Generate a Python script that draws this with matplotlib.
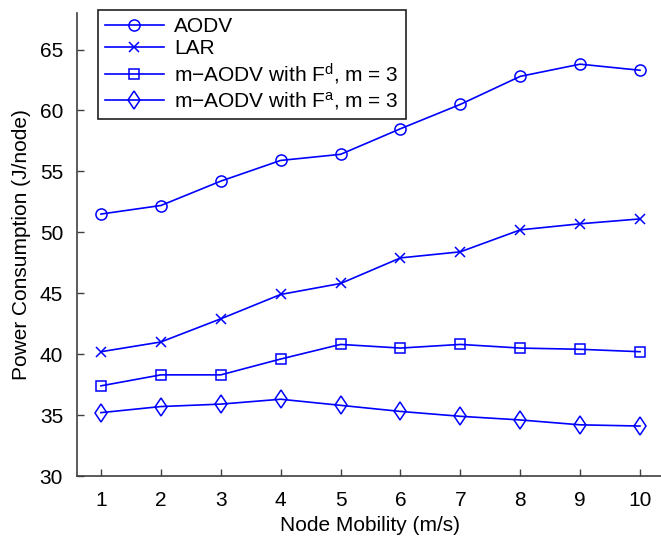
import numpy as np
import matplotlib
matplotlib.use("Agg")
import matplotlib.pyplot as plt

plt.rcParams['font.family'] = ['Liberation Sans', 'DejaVu Sans']
plt.rcParams['mathtext.fontset'] = 'custom'
plt.rcParams['mathtext.rm'] = 'Liberation Sans'
plt.rcParams['mathtext.it'] = 'Liberation Sans:italic'

# data
mobility = [1, 2, 3, 4, 5, 6, 7, 8, 9, 10]
aodv = [51.5, 52.2, 54.2, 55.9, 56.4, 58.5, 60.5, 62.8, 63.8, 63.3]
lar = [40.2, 41.0, 42.9, 44.9, 45.8, 47.9, 48.4, 50.2, 50.7, 51.1]
maodv_fd = [37.4, 38.3, 38.3, 39.6, 40.8, 40.5, 40.8, 40.5, 40.4, 40.2]
maodv_fa = [35.2, 35.7, 35.9, 36.3, 35.8, 35.3, 34.9, 34.6, 34.2, 34.1]

labels = ["AODV", "LAR",
          "m\u2212AODV with F$^{\\mathrm{d}}$, m = 3",
          "m\u2212AODV with F$^{\\mathrm{a}}$, m = 3"]
yticks = [30, 35, 40, 45, 50, 55, 60, 65]

fs = 15

fig = plt.figure(figsize=(6.61, 5.38), dpi=100)
ax = fig.add_axes([77/661, 62/538, 587/661, 463/538])

blue = "#0000ff"
kw = dict(color=blue, lw=1.2, markerfacecolor="none", markeredgecolor=blue, markeredgewidth=1.1)
ax.plot(mobility, aodv, marker="o", ms=8, label=labels[0], **kw)
ax.plot(mobility, lar, marker="x", ms=6.5, label=labels[1], **kw)
ax.plot(mobility, maodv_fd, marker="s", ms=7, label=labels[2], **kw)
ax.plot(mobility, maodv_fa, marker="d", ms=9.5, label=labels[3], **kw)

ax.set_xlim(0.6, 10.4)
ax.set_ylim(30, 68)
ax.set_xticks(mobility)
ax.set_yticks(yticks)
ax.spines['top'].set_visible(False)
ax.spines['right'].set_visible(False)
for s in ['left', 'bottom']:
    ax.spines[s].set_color("#404040")
    ax.spines[s].set_linewidth(1.2)
ax.tick_params(direction="in", length=5, width=1, color="#404040", labelsize=fs)
ax.tick_params(axis="x", pad=11)
ax.tick_params(axis="y", pad=10)

ax.set_xlabel("Node Mobility (m/s)", fontsize=fs, labelpad=4)
ax.set_ylabel("Power Consumption (J/node)", fontsize=fs, labelpad=6)

leg = ax.legend(loc="upper left", bbox_to_anchor=(98/661, 1 - 10/538),
                bbox_transform=fig.transFigure, borderaxespad=0,
                fontsize=fs, handlelength=2.8, handletextpad=0.5,
                labelspacing=0.15, fancybox=False, framealpha=1,
                borderpad=0.35)
leg.get_frame().set_edgecolor("#202020")
leg.get_frame().set_linewidth(1.2)

plt.savefig("out.png", dpi=100)
